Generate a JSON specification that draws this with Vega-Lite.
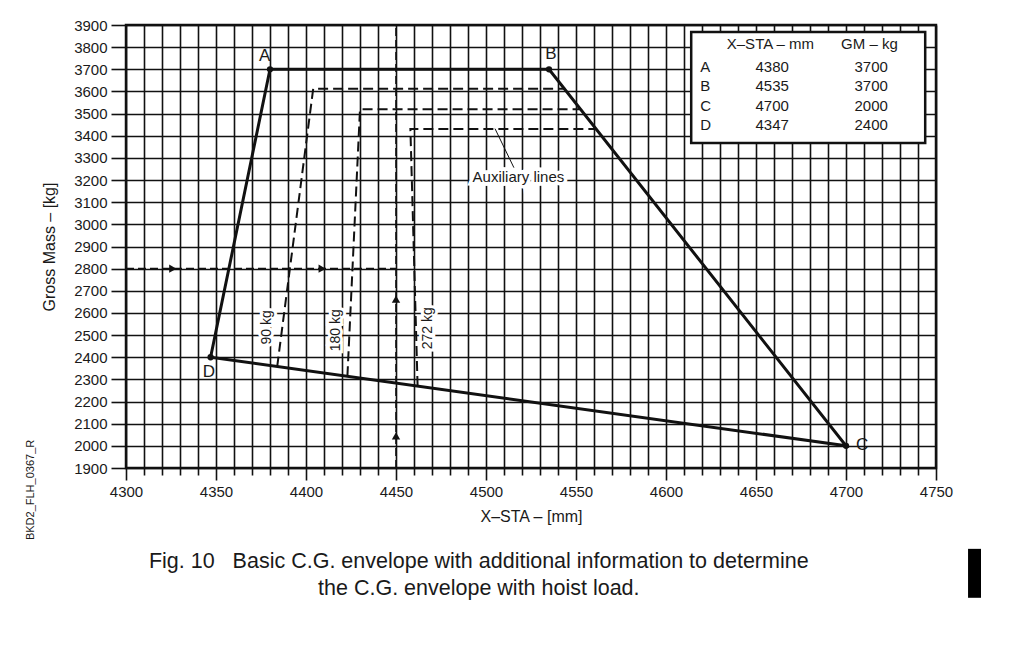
{
  "$schema": "https://vega.github.io/schema/vega-lite/v6.json",
  "width": 810,
  "height": 443,
  "autosize": "none",
  "padding": {"left": 126, "top": 25, "right": 81, "bottom": 193},
  "background": "white",
  "config": {
    "font": "Liberation Sans",
    "view": {"stroke": "#111", "strokeWidth": 2.5},
    "text": {"color": "#1a1a1a"}
  },
  "datasets": {
    "env": [
      {"pt": "A", "x": 4380, "y": 3700, "o": 1},
      {"pt": "B", "x": 4535, "y": 3700, "o": 2},
      {"pt": "C", "x": 4700, "y": 2000, "o": 3},
      {"pt": "D", "x": 4347, "y": 2400, "o": 4},
      {"pt": "A", "x": 4380, "y": 3700, "o": 5}
    ],
    "aux": [
      {"s": "90 kg", "x": 4384, "y": 2358, "o": 1},
      {"s": "90 kg", "x": 4404, "y": 3612, "o": 2},
      {"s": "90 kg", "x": 4544, "y": 3612, "o": 3},
      {"s": "180 kg", "x": 4423, "y": 2314, "o": 1},
      {"s": "180 kg", "x": 4430, "y": 3520, "o": 2},
      {"s": "180 kg", "x": 4552, "y": 3520, "o": 3},
      {"s": "272 kg", "x": 4462, "y": 2270, "o": 1},
      {"s": "272 kg", "x": 4458, "y": 3430, "o": 2},
      {"s": "272 kg", "x": 4561, "y": 3430, "o": 3}
    ],
    "guides": [
      {"g": "h", "x": 4300, "y": 2800, "o": 1},
      {"g": "h", "x": 4450, "y": 2800, "o": 2},
      {"g": "v", "x": 4450, "y": 1900, "o": 1},
      {"g": "v", "x": 4450, "y": 3900, "o": 2}
    ],
    "arrows": [
      {"x": 4326, "y": 2800, "s": "triangle-right"},
      {"x": 4409, "y": 2800, "s": "triangle-right"},
      {"x": 4450, "y": 2662, "s": "triangle-up"},
      {"x": 4450, "y": 2045, "s": "triangle-up"}
    ],
    "ptlabels": [
      {"t": "A", "x": 4377, "y": 3760},
      {"t": "B", "x": 4536, "y": 3769},
      {"t": "C", "x": 4709, "y": 2004},
      {"t": "D", "x": 4346, "y": 2334}
    ],
    "box": [{"x": 4614, "x2": 4744, "y": 3367, "y2": 3868}],
    "tblc": [
      {"t": "X–STA – mm", "x": 4658, "y": 3814},
      {"t": "GM – kg", "x": 4713, "y": 3814},
      {"t": "4380", "x": 4659, "y": 3710},
      {"t": "4535", "x": 4659, "y": 3625},
      {"t": "4700", "x": 4659, "y": 3534},
      {"t": "4347", "x": 4659, "y": 3448},
      {"t": "3700", "x": 4714, "y": 3710},
      {"t": "3700", "x": 4714, "y": 3625},
      {"t": "2000", "x": 4714, "y": 3534},
      {"t": "2400", "x": 4714, "y": 3448}
    ],
    "tbll": [
      {"t": "A", "x": 4619, "y": 3710},
      {"t": "B", "x": 4619, "y": 3625},
      {"t": "C", "x": 4619, "y": 3534},
      {"t": "D", "x": 4619, "y": 3448}
    ],
    "leader": [
      {"x": 4505, "y": 3432},
      {"x": 4515.5, "y": 3256}
    ],
    "auxlab": [
      {"t": "90 kg", "x": 4378.5, "y": 2535},
      {"t": "180 kg", "x": 4416.5, "y": 2522},
      {"t": "272 kg", "x": 4468, "y": 2531}
    ],
    "auxnote": [{"t": "Auxiliary lines", "x": 4518, "y": 3212}],
    "side": [{"t": "BKD2_FLH_0367_R", "x": 4247, "y": 1801}],
    "caption": [
      {"t": "Fig. 10\u00a0\u00a0\u00a0Basic C.G. envelope with additional information to determine", "x": 4496, "y": 1475},
      {"t": "the C.G. envelope with hoist load.", "x": 4496, "y": 1354}
    ],
    "bar": [{"x": 4767.8, "x2": 4775, "y": 1314, "y2": 1535}]
  },
  "encoding": {
    "x": {
      "field": "x",
      "type": "quantitative",
      "scale": {"domain": [4300, 4750], "nice": false, "zero": false},
      "axis": {
        "values": [4300,4310,4320,4330,4340,4350,4360,4370,4380,4390,4400,4410,4420,4430,4440,4450,4460,4470,4480,4490,4500,4510,4520,4530,4540,4550,4560,4570,4580,4590,4600,4610,4620,4630,4640,4650,4660,4670,4680,4690,4700,4710,4720,4730,4740,4750],
        "format": "d",
        "labelExpr": "datum.value % 50 === 0 ? datum.label : ''",
        "title": "X–STA – [mm]",
        "grid": true,
        "gridColor": "#111",
        "gridWidth": 1.6,
        "gridOpacity": 1,
        "domain": false,
        "tickColor": "#111",
        "tickWidth": 1.6,
        "tickSize": {"condition": {"test": "datum.value % 50 === 0", "value": 12}, "value": 7},
        "labelFontSize": 15,
        "labelPadding": 4,
        "labelColor": "#1a1a1a",
        "labelFlush": false,
        "labelOverlap": false,
        "titleFontSize": 16,
        "titleFontWeight": "normal",
        "titleColor": "#1a1a1a",
        "titlePadding": 9
      }
    },
    "y": {
      "field": "y",
      "type": "quantitative",
      "scale": {"domain": [1900, 3900], "nice": false, "zero": false},
      "axis": {
        "values": [1900,2000,2100,2200,2300,2400,2500,2600,2700,2800,2900,3000,3100,3200,3300,3400,3500,3600,3700,3800,3900],
        "format": "d",
        "title": "Gross Mass – [kg]",
        "grid": true,
        "gridColor": "#111",
        "gridWidth": 1.6,
        "gridOpacity": 1,
        "domain": false,
        "tickColor": "#111",
        "tickWidth": 1.6,
        "tickSize": 15,
        "labelFontSize": 15,
        "labelPadding": 4,
        "labelColor": "#1a1a1a",
        "labelFlush": false,
        "labelOverlap": false,
        "titleFontSize": 16,
        "titleFontWeight": "normal",
        "titleColor": "#1a1a1a",
        "titlePadding": 16
      }
    }
  },
  "layer": [
    {
      "data": {"name": "guides"},
      "mark": {"type": "line", "color": "#111", "strokeWidth": 1.6, "strokeDash": [8, 4]},
      "encoding": {"detail": {"field": "g"}, "order": {"field": "o"}}
    },
    {
      "data": {"name": "arrows"},
      "mark": {"type": "point", "filled": true, "color": "#111", "opacity": 1, "size": 70},
      "encoding": {"shape": {"field": "s", "type": "nominal", "scale": null}}
    },
    {
      "data": {"name": "aux"},
      "mark": {"type": "line", "color": "#111", "strokeWidth": 2, "strokeDash": [10, 5]},
      "encoding": {"detail": {"field": "s"}, "order": {"field": "o"}}
    },
    {
      "data": {"name": "env"},
      "mark": {"type": "line", "color": "#111", "strokeWidth": 3},
      "encoding": {"order": {"field": "o"}}
    },
    {
      "data": {"name": "env"},
      "transform": [{"filter": "datum.o < 5"}],
      "mark": {"type": "point", "shape": "circle", "filled": true, "color": "#111", "opacity": 1, "size": 40}
    },
    {
      "data": {"name": "ptlabels"},
      "mark": {"type": "text", "fontSize": 17, "align": "center", "baseline": "middle", "color": "#1a1a1a"},
      "encoding": {"text": {"field": "t"}}
    },
    {
      "data": {"name": "box"},
      "mark": {"type": "rect", "fill": "white", "stroke": "#111", "strokeWidth": 2.5},
      "encoding": {"x2": {"field": "x2"}, "y2": {"field": "y2"}}
    },
    {
      "data": {"name": "tblc"},
      "mark": {"type": "text", "fontSize": 15, "align": "center", "baseline": "middle", "color": "#1a1a1a"},
      "encoding": {"text": {"field": "t"}}
    },
    {
      "data": {"name": "tbll"},
      "mark": {"type": "text", "fontSize": 15, "align": "left", "baseline": "middle", "color": "#1a1a1a"},
      "encoding": {"text": {"field": "t"}}
    },
    {
      "data": {"name": "leader"},
      "mark": {"type": "line", "color": "#111", "strokeWidth": 1},
      "encoding": {}
    },
    {
      "data": {"name": "auxlab"},
      "mark": {"type": "text", "fontSize": 14, "angle": 270, "align": "center", "baseline": "middle", "fill": "white", "stroke": "white", "strokeWidth": 6},
      "encoding": {"text": {"field": "t"}}
    },
    {
      "data": {"name": "auxlab"},
      "mark": {"type": "text", "fontSize": 14, "angle": 270, "align": "center", "baseline": "middle", "color": "#1a1a1a"},
      "encoding": {"text": {"field": "t"}}
    },
    {
      "data": {"name": "auxnote"},
      "mark": {"type": "text", "fontSize": 15, "align": "center", "baseline": "middle", "fill": "white", "stroke": "white", "strokeWidth": 7},
      "encoding": {"text": {"field": "t"}}
    },
    {
      "data": {"name": "auxnote"},
      "mark": {"type": "text", "fontSize": 15, "align": "center", "baseline": "middle", "color": "#1a1a1a"},
      "encoding": {"text": {"field": "t"}}
    },
    {
      "data": {"name": "side"},
      "mark": {"type": "text", "fontSize": 11, "angle": 270, "align": "center", "baseline": "middle", "color": "#1a1a1a"},
      "encoding": {"text": {"field": "t"}}
    },
    {
      "data": {"name": "caption"},
      "mark": {"type": "text", "fontSize": 21.5, "align": "center", "baseline": "middle", "color": "#1a1a1a"},
      "encoding": {"text": {"field": "t"}}
    },
    {
      "data": {"name": "bar"},
      "mark": {"type": "rect", "fill": "#000"},
      "encoding": {"x2": {"field": "x2"}, "y2": {"field": "y2"}}
    }
  ]
}
